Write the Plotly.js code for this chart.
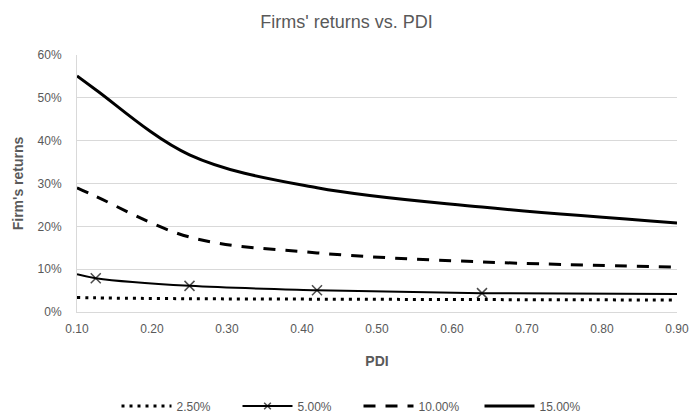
<!DOCTYPE html>
<html>
<head>
<meta charset="utf-8">
<script src="https://cdn.plot.ly/plotly-3.0.1.min.js"></script>
<style>html,body{margin:0;padding:0;background:#fff;}#chart{width:693px;height:416px;}</style>
</head>
<body>
<div id="chart"></div>
<script>
// PDI values (x) at the data points
const pdi = [0.10, 0.125, 0.25, 0.42, 0.64, 0.90];
// Firm's returns per series (fractions)
const r2_5 = [0.034, 0.033, 0.031, 0.030, 0.029, 0.028];
const r5_0 = [0.088, 0.079, 0.061, 0.051, 0.044, 0.042];
const r10_0 = [0.290, 0.270, 0.175, 0.138, 0.117, 0.105];
const r15_0 = [0.551, 0.519, 0.367, 0.290, 0.245, 0.208];
const seriesNames = ["2.50%", "5.00%", "10.00%", "15.00%"];
const xTicks = [0.1, 0.2, 0.3, 0.4, 0.5, 0.6, 0.7, 0.8, 0.9];

const font = "'Liberation Sans', Arial, sans-serif";
const grey = "#595959";

const traces = [
  {x: pdi, y: r2_5, name: seriesNames[0], mode: "lines", type: "scatter",
   line: {color: "#000", width: 3, dash: "3px,5px", shape: "spline"}},
  {x: pdi, y: r5_0, name: seriesNames[1], mode: "lines+markers", type: "scatter",
   line: {color: "#000", width: 2, shape: "spline"},
   marker: {symbol: "x-thin", size: pdi.map((v, i) => (i === 0 || i === pdi.length - 1) ? 0 : 10),
            color: "#000", line: {color: "#000", width: 1.5}}},
  {x: pdi, y: r10_0, name: seriesNames[2], mode: "lines", type: "scatter",
   line: {color: "#000", width: 3, dash: "12px,10px", shape: "spline"}},
  {x: pdi, y: r15_0, name: seriesNames[3], mode: "lines", type: "scatter",
   line: {color: "#000", width: 3, shape: "spline"}}
];

const layout = {
  width: 693, height: 416,
  margin: {l: 77, r: 16, t: 55, b: 104},
  paper_bgcolor: "#fff", plot_bgcolor: "#fff",
  font: {family: font, color: grey, size: 12},
  title: {text: "Firms' returns vs. PDI", font: {family: font, size: 18, color: grey},
          x: 0.5, xanchor: "center", y: 1 - 22/416, yanchor: "middle", yref: "container", automargin: false},
  xaxis: {range: [0.1, 0.9], tickvals: xTicks, tickformat: ".2f", automargin: false,
          showgrid: false, zeroline: false, showline: true, linecolor: "#d9d9d9", linewidth: 1,
          ticks: "", ticklabelstandoff: 6, tickfont: {size: 12, color: grey},
          title: {text: "<b>PDI</b>", font: {size: 14, color: grey}, standoff: 20}},
  yaxis: {range: [0, 0.6], dtick: 0.1, tickformat: ".0%", automargin: false,
          showgrid: true, gridcolor: "#d9d9d9", gridwidth: 1, zeroline: false,
          showline: true, linecolor: "#d9d9d9", linewidth: 1,
          ticks: "", ticklabelstandoff: 12, tickfont: {size: 12, color: grey},
          title: {text: "<b>Firm's returns</b>", font: {size: 14, color: grey}, standoff: 10}},
  legend: {orientation: "h", x: 0.5 + 12/693, xanchor: "center", xref: "container",
           y: 1 - 406/416, yanchor: "middle", yref: "container",
           font: {size: 12, color: grey}, itemwidth: 50, entrywidth: 56, tracegroupgap: 0},
  showlegend: true
};

Plotly.newPlot("chart", traces, layout, {displayModeBar: false, staticPlot: true});
</script>
</body>
</html>
